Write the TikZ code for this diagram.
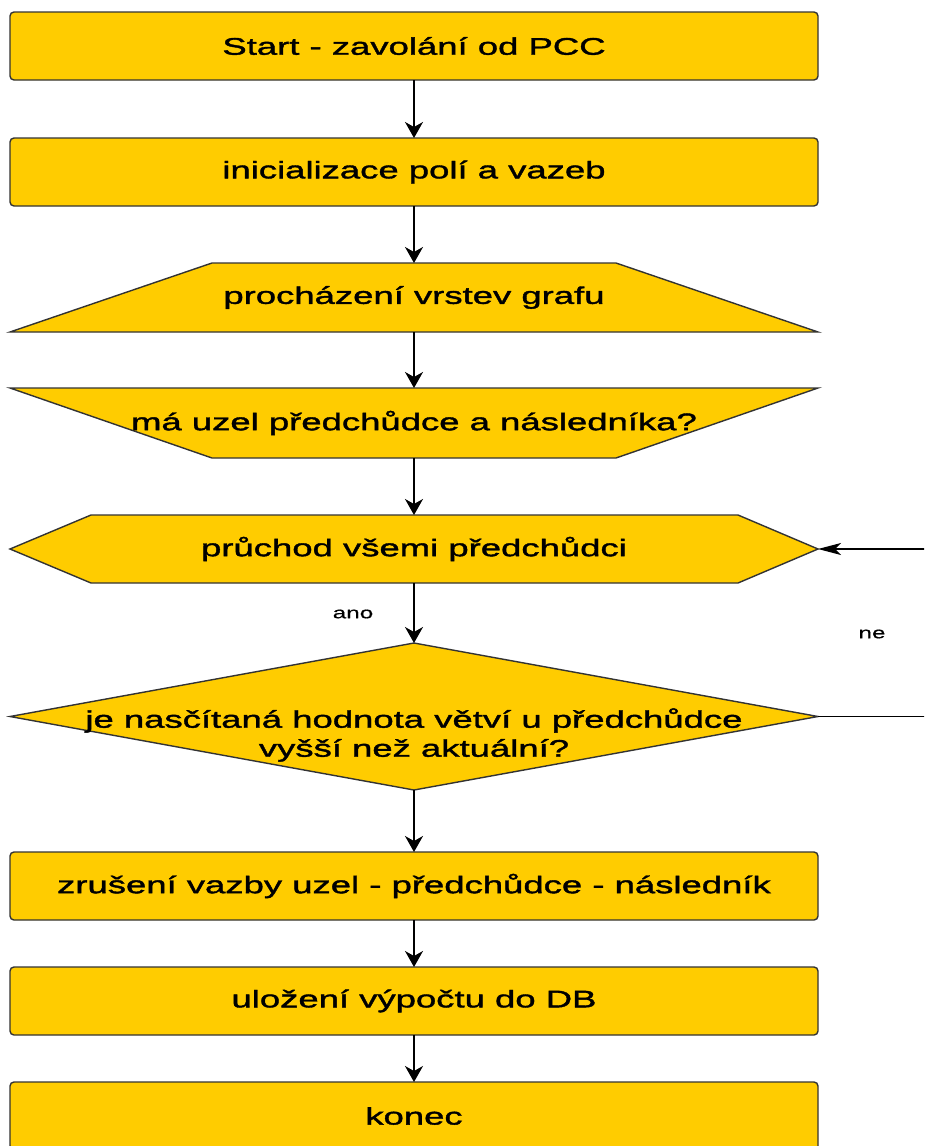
\documentclass[tikz,border=0pt]{standalone}
\usepackage{fontspec}
\setmainfont{Liberation Sans}
\newfontfamily\flowfont[FakeStretch=1.52,FakeBold=1.6]{Liberation Sans}
\newfontfamily\notefont[FakeStretch=1.52,FakeBold=0.6]{Liberation Sans}
\usetikzlibrary{arrows.meta,calc,backgrounds}
\definecolor{flowfill}{HTML}{FFCC00}
\definecolor{flowline}{HTML}{333333}
\begin{document}
\begin{tikzpicture}[x=1pt,y=-1pt,
  shapebox/.style={minimum width=808pt, minimum height=68pt, inner sep=0pt, outer sep=0pt,
    font=\flowfont\fontsize{24}{29}\selectfont, align=center},
  procbox/.style={shapebox, draw=flowline, fill=flowfill, line width=1.4pt, rounded corners=4pt},
  outline/.style={draw=flowline, fill=flowfill, line width=1.4pt, line join=miter},
  smalltext/.style={font=\notefont\fontsize{16}{19}\selectfont, inner sep=0pt},
  flow/.style={draw=black, line width=1.6pt, -{Stealth[length=16pt,width=18pt,inset=5pt]}},
  flowside/.style={draw=black, line width=1.4pt, -{Stealth[length=23pt,width=12pt,inset=6pt]}}]
\useasboundingbox (0,0) rectangle (924,1146);
\clip (0,0) rectangle (924,1146);

% process steps
\node[procbox] (start) at (414,46) {Start - zavolání od PCC};
\node[procbox] (init) at (414,172) {inicializace polí a vazeb};
\node[shapebox, minimum height=69pt] (layers) at (414,297.5) {procházení vrstev grafu};
\node[shapebox, minimum height=70pt] (check) at (414,423) {má uzel předchůdce a následníka?};
\node[shapebox] (loop) at (414,549) {průchod všemi předchůdci};
\node[shapebox, minimum height=147pt] (cmp) at (414,716.5) {};
\node[font=\flowfont\fontsize{24}{29}\selectfont, align=center, inner sep=0pt] (cmptext) at (414,735)
  {je nasčítaná hodnota větví u předchůdce\\vyšší než aktuální?};
\node[procbox] (cancel) at (414,886) {zrušení vazby uzel - předchůdce - následník};
\node[procbox] (save) at (414,1001) {uložení výpočtu do DB};
\node[procbox] (finish) at (414,1116) {konec};

% outlines of the non-rectangular steps
\begin{pgfonlayer}{background}
  \path[outline] (layers.south west) -- (layers.south east)
    -- ([xshift=-202pt]layers.north east) -- ([xshift=202pt]layers.north west) -- cycle;
  \path[outline] (check.north west) -- (check.north east)
    -- ([xshift=-202pt]check.south east) -- ([xshift=202pt]check.south west) -- cycle;
  \path[outline] (loop.west) -- ([xshift=81pt]loop.north west) -- ([xshift=-80pt]loop.north east)
    -- (loop.east) -- ([xshift=-80pt]loop.south east) -- ([xshift=81pt]loop.south west) -- cycle;
  \path[outline] (cmp.north) -- (cmp.east) -- (cmp.south) -- (cmp.west) -- cycle;
\end{pgfonlayer}

% connectors
\draw[flow] (start.south) -- (init.north);
\draw[flow] (init.south) -- (layers.north);
\draw[flow] (layers.south) -- (check.north);
\draw[flow] (check.south) -- (loop.north);
\draw[flow] (loop.south) -- (cmp.north);
\node[smalltext] (yes) at (353,614) {ano};
\draw[flowside] (cmp.east) -- ++(140,0) |- (loop.east);
\node[smalltext] (no) at (872,634) {ne};
\draw[flow] (cmp.south) -- (cancel.north);
\draw[flow] (cancel.south) -- (save.north);
\draw[flow] (save.south) -- (finish.north);
\end{tikzpicture}
\end{document}
